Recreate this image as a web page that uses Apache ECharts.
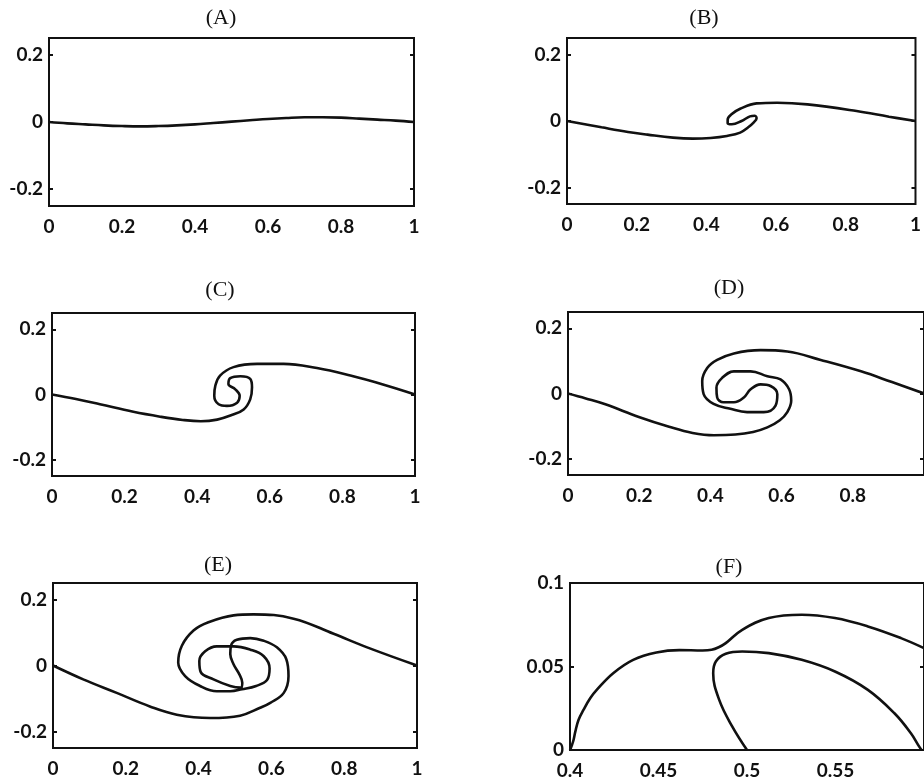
<!DOCTYPE html>
<html><head><meta charset="utf-8">
<script src="https://cdn.jsdelivr.net/npm/echarts@6/dist/echarts.min.js"></script>
<style>html,body{margin:0;padding:0;background:#fff}#c{width:924px;height:782px}</style>
</head><body><div id="c"></div>
<script>
const panelTitles = ['(A)', '(B)', '(C)', '(D)', '(E)', '(F)'];

const xTicksMain = [0, 0.2, 0.4, 0.6, 0.8, 1];
const xTicksRight = [0, 0.2, 0.4, 0.6, 0.8];
const xTicksB = [0, 0.2, 0.4, 0.6, 0.8, 1];
const xTicksF = [0.4, 0.45, 0.5, 0.55];
const yTicksMain = [-0.2, 0, 0.2];
const yTicksF = [0, 0.05, 0.1];

const curveA = [[0,0],[0.05,-0.004],[0.1,-0.007],[0.15,-0.010],[0.2,-0.012],[0.25,-0.013],[0.3,-0.012],[0.35,-0.010],[0.4,-0.007],[0.45,-0.003],[0.5,0.001],[0.55,0.005],[0.6,0.009],[0.65,0.012],[0.7,0.014],[0.75,0.014],[0.8,0.013],[0.85,0.010],[0.9,0.007],[0.95,0.004],[1,0]];

const curveB = [[0,0],[0.099,-0.019],[0.175,-0.033],[0.231,-0.041],[0.304,-0.050],[0.361,-0.053],[0.412,-0.051],[0.459,-0.045],[0.497,-0.035],[0.520,-0.019],[0.536,-0.004],[0.544,0.008],[0.539,0.016],[0.525,0.014],[0.501,0.0],[0.473,-0.010],[0.461,-0.007],[0.461,0.004],[0.473,0.021],[0.497,0.037],[0.544,0.053],[0.603,0.055],[0.690,0.050],[0.831,0.030],[0.924,0.013],[1,0]];

const curveC = [[0,0],[0.066,-0.014],[0.132,-0.030],[0.224,-0.053],[0.298,-0.068],[0.36,-0.078],[0.41,-0.082],[0.455,-0.077],[0.495,-0.063],[0.528,-0.046],[0.546,-0.015],[0.551,0.022],[0.546,0.048],[0.519,0.056],[0.491,0.050],[0.486,0.032],[0.505,0.016],[0.517,-0.004],[0.510,-0.025],[0.482,-0.035],[0.459,-0.030],[0.447,-0.004],[0.450,0.027],[0.463,0.058],[0.500,0.084],[0.565,0.094],[0.638,0.094],[0.730,0.081],[0.822,0.058],[0.914,0.030],[1,0]];

const curveD = [[0,0],[0.05,-0.015],[0.105,-0.033],[0.199,-0.072],[0.284,-0.102],[0.35,-0.121],[0.41,-0.128],[0.47,-0.126],[0.52,-0.118],[0.56,-0.104],[0.595,-0.082],[0.616,-0.057],[0.627,-0.022],[0.621,0.013],[0.597,0.043],[0.560,0.053],[0.513,0.068],[0.466,0.068],[0.433,0.048],[0.417,0.018],[0.419,-0.012],[0.437,-0.027],[0.466,-0.027],[0.494,-0.012],[0.513,0.013],[0.541,0.028],[0.569,0.023],[0.588,-0.002],[0.583,-0.037],[0.550,-0.057],[0.503,-0.057],[0.456,-0.047],[0.409,-0.032],[0.381,-0.002],[0.377,0.038],[0.391,0.078],[0.419,0.103],[0.466,0.123],[0.541,0.133],[0.616,0.129],[0.710,0.103],[0.823,0.068],[0.91,0.035],[1,0]];

const curveE = [[0,0],[0.083,-0.042],[0.175,-0.083],[0.266,-0.124],[0.340,-0.149],[0.432,-0.159],[0.514,-0.152],[0.569,-0.128],[0.597,-0.113],[0.634,-0.083],[0.647,-0.032],[0.641,0.019],[0.615,0.055],[0.579,0.075],[0.542,0.083],[0.505,0.078],[0.489,0.060],[0.487,0.035],[0.496,0.004],[0.512,-0.027],[0.520,-0.052],[0.516,-0.067],[0.487,-0.062],[0.441,-0.042],[0.406,-0.020],[0.402,0.014],[0.418,0.043],[0.450,0.058],[0.496,0.058],[0.542,0.048],[0.579,0.028],[0.595,-0.009],[0.588,-0.044],[0.558,-0.062],[0.519,-0.072],[0.487,-0.078],[0.450,-0.078],[0.404,-0.062],[0.363,-0.032],[0.344,0.009],[0.354,0.060],[0.386,0.106],[0.427,0.131],[0.496,0.152],[0.551,0.155],[0.661,0.142],[0.771,0.096],[0.863,0.055],[1,0]];

const curveFouter = [[0.4,0],[0.4011,0.003],[0.402,0.006],[0.403,0.011],[0.4048,0.018],[0.4076,0.024],[0.4114,0.031],[0.4151,0.036],[0.4244,0.046],[0.4357,0.054],[0.4488,0.0584],[0.4618,0.0598],[0.4749,0.0596],[0.4800,0.0600],[0.4840,0.0615],[0.488,0.064],[0.4973,0.072],[0.5123,0.079],[0.5309,0.081],[0.5497,0.079],[0.5683,0.074],[0.587,0.067],[0.6,0.061]];
const curveFinner = [[0.5,0],[0.4917,0.014],[0.4843,0.030],[0.4809,0.046],[0.4824,0.053],[0.488,0.0576],[0.4973,0.059],[0.5123,0.058],[0.5309,0.054],[0.5497,0.047],[0.5683,0.036],[0.5833,0.022],[0.5926,0.010],[0.5973,0.002],[0.5986,0]];

const panels = [
  {grid:{left:49, top:38, width:365, height:168}, xr:[0,1], yr:[-0.25,0.25], xt:xTicksMain, yt:yTicksMain, curves:[curveA], title:[221,18]},
  {grid:{left:567, top:38, width:356, height:166}, xr:[0,1], yr:[-0.25,0.25], xt:xTicksB, yt:yTicksMain, curves:[curveB], title:[704,18]},
  {grid:{left:52, top:313, width:363, height:163}, xr:[0,1], yr:[-0.25,0.25], xt:xTicksMain, yt:yTicksMain, curves:[curveC], title:[220,290]},
  {grid:{left:568, top:312, width:356, height:163}, xr:[0,1], yr:[-0.25,0.25], xt:xTicksRight, yt:yTicksMain, curves:[curveD], title:[729,288]},
  {grid:{left:53, top:583, width:364, height:165}, xr:[0,1], yr:[-0.25,0.25], xt:xTicksMain, yt:yTicksMain, curves:[curveE], title:[218,565]},
  {grid:{left:570, top:583, width:357, height:167}, xr:[0.4,0.6], yr:[0,0.1], xt:xTicksF, yt:yTicksF, curves:[curveFouter, curveFinner], title:[729,567]}
];

const labelFont = {fontFamily:'Lato', fontWeight:'bold', fontSize:19, color:'#111'};
const grids = [], xAxes = [], yAxes = [], series = [], graphics = [];
panels.forEach((p, i) => {
  grids.push(Object.assign({show:true, borderColor:'#111', borderWidth:2, backgroundColor:'transparent'}, p.grid));
  xAxes.push({type:'value', gridIndex:i, min:p.xr[0], max:p.xr[1],
    axisLine:{show:false}, splitLine:{show:false}, axisTick:{show:false},
    axisLabel:Object.assign({customValues:p.xt, margin:11, showMinLabel:true, showMaxLabel:true}, labelFont)});
  yAxes.push({type:'value', gridIndex:i, min:p.yr[0], max:p.yr[1], position:'left',
    axisLine:{show:false}, splitLine:{show:false},
    axisTick:{show:true, inside:true, length:4, customValues:p.yt, lineStyle:{color:'#111', width:2}},
    axisLabel:Object.assign({customValues:p.yt, margin:6}, labelFont)});
  yAxes.push({type:'value', gridIndex:i, min:p.yr[0], max:p.yr[1], position:'right',
    axisLine:{show:false}, splitLine:{show:false},
    axisTick:{show:true, inside:true, length:4, customValues:p.yt, lineStyle:{color:'#111', width:2}},
    axisLabel:{show:false}});
  p.curves.forEach(c => {
    series.push({type:'line', xAxisIndex:i, yAxisIndex:2*i, data:c, smooth:0.4, symbol:'none',
      lineStyle:{color:'#111', width:2.6}, clip:true, silent:true, animation:false});
  });
  graphics.push({type:'text', x:p.title[0], y:p.title[1], style:{text:panelTitles[i], fontFamily:'Liberation Serif', fontSize:22, fill:'#111', align:'center', verticalAlign:'middle'}});
});

const chart = echarts.init(document.getElementById('c'), null, {renderer:'canvas'});
chart.setOption({
  backgroundColor:'#fff',
  animation:false,
  grid:grids, xAxis:xAxes, yAxis:yAxes, series:series, graphic:graphics
});
</script></body></html>
